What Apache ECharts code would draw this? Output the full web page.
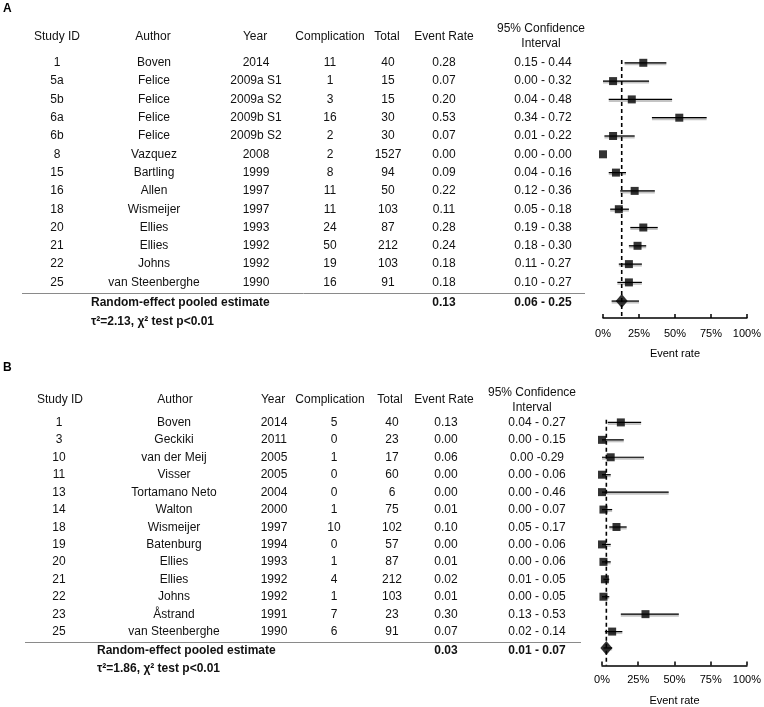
<!DOCTYPE html>
<html>
<head>
<meta charset="utf-8">
<script src="https://cdn.jsdelivr.net/npm/echarts@6/dist/echarts.min.js"></script>
<style>html,body{margin:0;padding:0;background:#fff;}#chart{width:764px;height:707px;}</style>
</head>
<body>
<div id="chart"></div>
<script>
// ---------- data ----------
const headers = ['Study ID', 'Author', 'Year', 'Complication', 'Total', 'Event Rate', '95% Confidence\nInterval'];
const tickValues = [0, 0.25, 0.5, 0.75, 1];
const tickLabels = ['0%', '25%', '50%', '75%', '100%'];
const axisTitle = 'Event rate';
const pooledLabel = 'Random-effect pooled estimate';

// Panel A
const idsA = ['1', '5a', '5b', '6a', '6b', '8', '15', '16', '18', '20', '21', '22', '25'];
const authorsA = ['Boven', 'Felice', 'Felice', 'Felice', 'Felice', 'Vazquez', 'Bartling', 'Allen', 'Wismeijer', 'Ellies', 'Ellies', 'Johns', 'van Steenberghe'];
const yearsA = ['2014', '2009a S1', '2009a S2', '2009b S1', '2009b S2', '2008', '1999', '1997', '1997', '1993', '1992', '1992', '1990'];
const complicationA = [11, 1, 3, 16, 2, 2, 8, 11, 11, 24, 50, 19, 16];
const totalA = [40, 15, 15, 30, 30, 1527, 94, 50, 103, 87, 212, 103, 91];
const rateA = [0.28, 0.07, 0.20, 0.53, 0.07, 0.00, 0.09, 0.22, 0.11, 0.28, 0.24, 0.18, 0.18];
const ciA = ['0.15 - 0.44', '0.00 - 0.32', '0.04 - 0.48', '0.34 - 0.72', '0.01 - 0.22', '0.00 - 0.00', '0.04 - 0.16', '0.12 - 0.36', '0.05 - 0.18', '0.19 - 0.38', '0.18 - 0.30', '0.11 - 0.27', '0.10 - 0.27'];
const pooledRateA = 0.13;
const pooledCiA = '0.06 - 0.25';
const statA = 'τ²=2.13, χ² test p<0.01';

// Panel B
const idsB = ['1', '3', '10', '11', '13', '14', '18', '19', '20', '21', '22', '23', '25'];
const authorsB = ['Boven', 'Geckiki', 'van der Meij', 'Visser', 'Tortamano Neto', 'Walton', 'Wismeijer', 'Batenburg', 'Ellies', 'Ellies', 'Johns', 'Åstrand', 'van Steenberghe'];
const yearsB = ['2014', '2011', '2005', '2005', '2004', '2000', '1997', '1994', '1993', '1992', '1992', '1991', '1990'];
const complicationB = [5, 0, 1, 0, 0, 1, 10, 0, 1, 4, 1, 7, 6];
const totalB = [40, 23, 17, 60, 6, 75, 102, 57, 87, 212, 103, 23, 91];
const rateB = [0.13, 0.00, 0.06, 0.00, 0.00, 0.01, 0.10, 0.00, 0.01, 0.02, 0.01, 0.30, 0.07];
const ciB = ['0.04 - 0.27', '0.00 - 0.15', '0.00 -0.29', '0.00 - 0.06', '0.00 - 0.46', '0.00 - 0.07', '0.05 - 0.17', '0.00 - 0.06', '0.00 - 0.06', '0.01 - 0.05', '0.00 - 0.05', '0.13 - 0.53', '0.02 - 0.14'];
const pooledRateB = 0.03;
const pooledCiB = '0.01 - 0.07';
const statB = 'τ²=1.86, χ² test p<0.01';

// ---------- layout ----------
const FONT = '"Liberation Sans", Arial, Helvetica, sans-serif';
const layoutA = { label: 'A', labelY: 3, row0: 62.8, rowH: 18.3, headerRow: -1.44, lineRow: 12.58, pooledRow: 13.1, tauRow: 14.16, diamondRow: 13.02,
  axisY: 318, fLeft: 603, fWidth: 144, hdrX: [57, 153, 255, 330, 387, 444, 541], valX: [57, 154, 256, 330, 388, 444, 543],
  textLeft: 91, lineX: [22, 585], dashStart: -0.15, labelMargin: 10, nameGap: 30 };
const layoutB = { label: 'B', labelY: 362, row0: 422.5, rowH: 17.46, headerRow: -1.29, lineRow: 12.57, pooledRow: 13.05, tauRow: 14.1, diamondRow: 12.94,
  axisY: 666, fLeft: 602, fWidth: 145, hdrX: [60, 175, 273, 330, 390, 444, 532], valX: [59, 174, 274, 334, 392, 446, 537],
  textLeft: 97, lineX: [25, 581], dashStart: -0.15, labelMargin: 8.5, nameGap: 29.5 };

const panels = [
  { L: layoutA, ids: idsA, authors: authorsA, years: yearsA, comp: complicationA, total: totalA, rate: rateA, ci: ciA, pRate: pooledRateA, pCi: pooledCiA, stat: statA },
  { L: layoutB, ids: idsB, authors: authorsB, years: yearsB, comp: complicationB, total: totalB, rate: rateB, ci: ciB, pRate: pooledRateB, pCi: pooledCiB, stat: statB }
];

function parseCi(s) {
  const parts = s.split('-');
  return [parseFloat(parts[0]), parseFloat(parts[1])];
}

const grid = [], xAxis = [], yAxis = [], series = [], title = [];

panels.forEach((P, pi) => {
  const L = P.L;
  const top = L.row0 - 3 * L.rowH;
  const tg = pi * 2, fg = pi * 2 + 1;
  title.push({ text: L.label, left: 3, top: L.labelY, padding: 0, textStyle: { fontFamily: FONT, fontSize: 12, fontWeight: 'bold', color: '#000' } });

  // table grid
  grid.push({ left: 0, top: top, width: 764, height: 19 * L.rowH });
  xAxis.push({ gridIndex: tg, type: 'value', min: 0, max: 764, show: false });
  yAxis.push({ gridIndex: tg, type: 'value', min: -3, max: 16, inverse: true, show: false });

  // forest grid
  const fHeight = L.axisY - top;
  const fMax = -3 + fHeight / L.rowH;
  grid.push({ left: L.fLeft, top: top, width: L.fWidth, height: fHeight });
  xAxis.push({
    gridIndex: fg, type: 'value', min: 0, max: 1, interval: 0.25, position: 'bottom',
    axisLine: { show: true, onZero: false, lineStyle: { color: '#000', width: 1.5 } },
    axisTick: { show: true, inside: true, length: 4, lineStyle: { color: '#000', width: 1.5 } },
    axisLabel: { fontFamily: FONT, fontSize: 11, color: '#000', margin: L.labelMargin,
      formatter: v => { const k = tickValues.indexOf(v); return k >= 0 ? tickLabels[k] : ''; } },
    splitLine: { show: false },
    name: axisTitle, nameLocation: 'middle', nameGap: L.nameGap,
    nameTextStyle: { fontFamily: FONT, fontSize: 11, color: '#000' }
  });
  yAxis.push({ gridIndex: fg, type: 'value', min: -3, max: fMax, inverse: true, show: false });

  // table cells
  const cells = [];
  headers.forEach((h, j) => cells.push({ x: L.hdrX[j], row: L.headerRow, text: h }));
  P.ids.forEach((id, i) => {
    const vals = [id, P.authors[i], P.years[i], String(P.comp[i]), String(P.total[i]), P.rate[i].toFixed(2), P.ci[i]];
    vals.forEach((v, j) => cells.push({ x: L.valX[j], row: i, text: v }));
  });
  cells.push({ x: L.textLeft, row: L.pooledRow, text: pooledLabel, bold: true, align: 'left' });
  cells.push({ x: L.valX[5], row: L.pooledRow, text: P.pRate.toFixed(2), bold: true });
  cells.push({ x: L.valX[6], row: L.pooledRow, text: P.pCi, bold: true });
  cells.push({ x: L.textLeft, row: L.tauRow, text: P.stat, bold: true, align: 'left' });

  series.push({
    type: 'custom', xAxisIndex: tg, yAxisIndex: tg, silent: true,
    data: cells.map(c => [c.x, c.row]),
    encode: { x: 0, y: 1 },
    renderItem: (params, api) => {
      const c = cells[params.dataIndex];
      const pt = api.coord([api.value(0), api.value(1)]);
      return { type: 'text', x: pt[0], y: pt[1], style: {
        text: c.text, fill: '#111', font: (c.bold ? 'bold ' : '') + '12px ' + FONT,
        align: c.align || 'center', verticalAlign: 'middle', lineHeight: 15 } };
    }
  });

  // separator line
  series.push({
    type: 'custom', xAxisIndex: tg, yAxisIndex: tg, silent: true,
    data: [[L.lineX[0], L.lineX[1], L.lineRow]],
    encode: { x: [0, 1], y: 2 },
    renderItem: (params, api) => {
      const a = api.coord([api.value(0), api.value(2)]);
      const b = api.coord([api.value(1), api.value(2)]);
      return { type: 'line', shape: { x1: a[0], y1: Math.round(a[1]) + 0.5, x2: b[0], y2: Math.round(b[1]) + 0.5 },
        style: { stroke: '#8a8a8a', lineWidth: 1 } };
    }
  });

  // CI lines (studies + pooled)
  const ciData = P.ci.map((s, i) => { const r = parseCi(s); return [r[0], r[1], i]; });
  const pr = parseCi(P.pCi);
  ciData.push([pr[0], pr[1], L.diamondRow]);
  series.push({
    type: 'custom', xAxisIndex: fg, yAxisIndex: fg, silent: true, z: 2,
    data: ciData, encode: { x: [0, 1], y: 2 },
    renderItem: (params, api) => {
      const a = api.coord([api.value(0), api.value(2)]);
      const b = api.coord([api.value(1), api.value(2)]);
      return { type: 'group', children: [
        { type: 'line', shape: { x1: a[0], y1: a[1] + 1, x2: b[0], y2: b[1] + 1 }, style: { stroke: '#c4c4c4', lineWidth: 3 } },
        { type: 'line', shape: { x1: a[0], y1: a[1], x2: b[0], y2: b[1] }, style: { stroke: '#000', lineWidth: 1.2 } }
      ] };
    }
  });

  // dashed pooled line
  series.push({
    type: 'line', xAxisIndex: fg, yAxisIndex: fg, silent: true, z: 3,
    data: [[P.pRate, L.dashStart], [P.pRate, fMax]],
    symbol: 'none', lineStyle: { color: '#000', width: 1.6, type: [4, 3] }
  });

  // study squares
  series.push({
    type: 'scatter', xAxisIndex: fg, yAxisIndex: fg, silent: true, z: 4,
    data: P.rate.map((r, i) => [r, i]),
    symbol: 'rect', symbolSize: 8, itemStyle: { color: '#000' }
  });

  // pooled diamond
  series.push({
    type: 'scatter', xAxisIndex: fg, yAxisIndex: fg, silent: true, z: 4,
    data: [[P.pRate, L.diamondRow]],
    symbol: 'diamond', symbolSize: [12, 14], itemStyle: { color: '#000' }
  });
});

const chart = echarts.init(document.getElementById('chart'), null, { renderer: 'canvas' });
chart.setOption({
  backgroundColor: '#fff',
  animation: false,
  title: title,
  grid: grid,
  xAxis: xAxis,
  yAxis: yAxis,
  series: series
});
</script>
</body>
</html>
